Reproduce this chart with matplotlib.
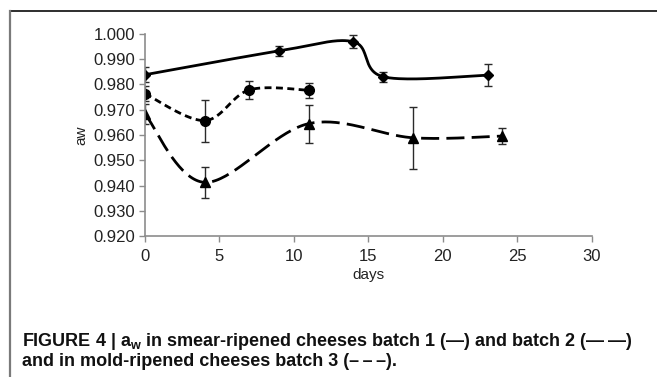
import matplotlib
matplotlib.use("Agg")
import matplotlib.pyplot as plt
from matplotlib.lines import Line2D
import numpy as np

plt.rcParams.update({
    "font.family": ["Liberation Sans", "DejaVu Sans"],
    "mathtext.fontset": "custom",
    "mathtext.rm": "Liberation Sans:bold",
})

# batch 1, smear-ripened
days_b1 = [0, 9, 14, 16, 23]
aw_b1 = [0.9838, 0.9932, 0.9968, 0.9830, 0.9836]
err_b1 = [0.0030, 0.0020, 0.0025, 0.0020, 0.0043]

# batch 2, smear-ripened
days_b2 = [0, 4, 7, 11]
aw_b2 = [0.9763, 0.9657, 0.9778, 0.9777]
err_b2 = [0.0030, 0.0083, 0.0035, 0.0030]

# batch 3, mold-ripened
days_b3 = [0, 4, 11, 18, 24]
aw_b3 = [0.9683, 0.9413, 0.9645, 0.9589, 0.9596]
err_b3 = [0.0040, 0.0060, 0.0075, 0.0122, 0.0032]

x_ticks = [0, 5, 10, 15, 20, 25, 30]
y_ticks = [0.920, 0.930, 0.940, 0.950, 0.960, 0.970, 0.980, 0.990, 1.000]


def smooth(xs, ys, n=40):
    # Catmull-Rom style bezier through the points (spreadsheet "smoothed line")
    p = np.column_stack([xs, ys]).astype(float)
    ext = np.vstack([p[0], p, p[-1]])
    t = np.linspace(0, 1, n)[:, None]
    out = []
    for i in range(len(p) - 1):
        p0, p1 = ext[i + 1], ext[i + 2]
        c1 = p0 + (ext[i + 2] - ext[i]) / 6
        c2 = p1 - (ext[i + 3] - ext[i + 1]) / 6
        seg = ((1 - t) ** 3) * p0 + 3 * ((1 - t) ** 2) * t * c1 + 3 * (1 - t) * t ** 2 * c2 + t ** 3 * p1
        out.append(seg if i == 0 else seg[1:])
    out = np.vstack(out)
    return out[:, 0], out[:, 1]


fig = plt.figure(figsize=(6.57, 3.77), dpi=100)
ax = fig.add_axes([0.2207, 0.3732, 0.680, 0.5374])

series = [
    (days_b1, aw_b1, err_b1, "D", 5.5, (None, None)),
    (days_b2, aw_b2, err_b2, "o", 7, (2.5, 1.6)),
    (days_b3, aw_b3, err_b3, "^", 7, (6.5, 2.6)),
]
for xs, ys, es, mk, ms, dash in series:
    sx, sy = smooth(xs, ys)
    line, = ax.plot(sx, sy, color="black", lw=2.0, solid_capstyle="butt")
    if dash[0] is not None:
        line.set_dashes(dash)
        line.set_dash_capstyle("butt")
    ax.errorbar(xs, ys, yerr=es, fmt="none", ecolor="#2a2a2a", elinewidth=1.0,
                capsize=2.6, capthick=1.0)
    ax.plot(xs, ys, linestyle="none", marker=mk, ms=ms, color="black")

ax.set_xlim(0, 30)
ax.set_ylim(0.920, 1.000)
ax.set_xticks(x_ticks)
ax.set_yticks(y_ticks)
ax.set_yticklabels([f"{v:.3f}" for v in y_ticks])

for s in ("top", "right"):
    ax.spines[s].set_visible(False)
for s in ("left", "bottom"):
    ax.spines[s].set_color("#8c8c8c")
    ax.spines[s].set_linewidth(1.2)
ax.tick_params(axis="both", colors="#8c8c8c", labelcolor="#222222",
               labelsize=12, length=4, width=1.0, direction="out")
ax.tick_params(axis="x", pad=5)
ax.tick_params(axis="y", pad=3)

ax.set_xlabel("days", fontsize=11, color="#222222", labelpad=3)
ax.set_ylabel("aw", fontsize=11, color="#222222", labelpad=4)

# frame lines of the figure panel
fig.add_artist(Line2D([9.5 / 657, 1.0], [1 - 11 / 377, 1 - 11 / 377],
                      color="#1e1e1e", lw=1.3, transform=fig.transFigure))
fig.add_artist(Line2D([9.5 / 657, 9.5 / 657], [0.0, 1 - 11 / 377],
                      color="#7a7a7a", lw=1.6, transform=fig.transFigure))

cap_kw = dict(fontweight="bold", fontsize=13, color="#111111",
              transform=fig.transFigure, va="center", ha="left")
fig.text(22 / 657, 1 - 341 / 377,
         "FIGURE 4 | a$_\\mathrm{w}$ in smear-ripened cheeses batch 1 (—) and batch 2 (—\u2009—)",
         **cap_kw)
fig.text(22 / 657, 1 - 362 / 377,
         "and in mold-ripened cheeses batch 3 (–\u2009–\u2009–).", **cap_kw)

fig.savefig("out.png", dpi=100)
